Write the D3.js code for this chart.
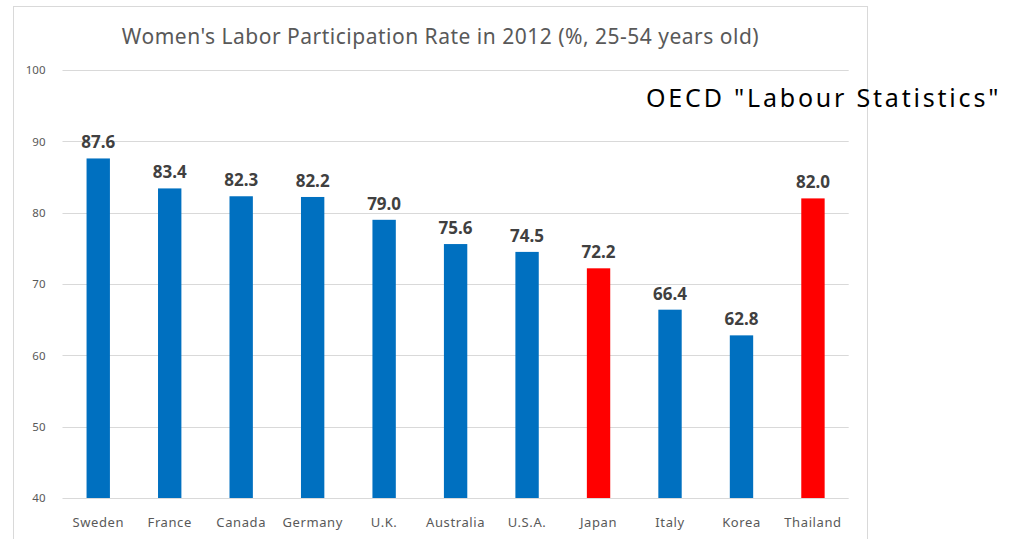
<!DOCTYPE html>
<html>
<head>
<meta charset="utf-8">
<script src="https://cdn.jsdelivr.net/npm/d3@7"></script>
<style>
html,body{margin:0;padding:0;background:#fff;}
svg{display:block;}
</style>
</head>
<body>
<svg id="chart" width="1023" height="539"></svg>
<script>
const categories = ["Sweden","France","Canada","Germany","U.K.","Australia","U.S.A.","Japan","Italy","Korea","Thailand"];
const values = [87.6,83.4,82.3,82.2,79.0,75.6,74.5,72.2,66.4,62.8,82.0];
const highlighted = ["Japan","Thailand"];
const yTicks = [40,50,60,70,80,90,100];
const titleText = "Women's Labor Participation Rate in 2012 (%, 25-54 years old)";
const sourceText = "OECD \"Labour Statistics\"";

const svg = d3.select("#chart");
const plot = {left: 62.5, right: 848.7, top: 70, bottom: 498};

// outer chart frame
svg.append("rect")
  .attr("x", 13.5).attr("y", 6.5)
  .attr("width", 854).attr("height", 560)
  .attr("fill", "#fff").attr("stroke", "#d9d9d9").attr("stroke-width", 1);

const x = d3.scaleBand().domain(categories).range([plot.left, plot.right]).paddingInner(0.673).paddingOuter(0.3365);
const y = d3.scaleLinear().domain([40, 100]).range([plot.bottom, plot.top]);

// gridlines
svg.append("g").selectAll("line").data(yTicks).join("line")
  .attr("x1", plot.left).attr("x2", plot.right)
  .attr("y1", d => Math.round(y(d)) + 0.5).attr("y2", d => Math.round(y(d)) + 0.5)
  .attr("stroke", "#d9d9d9").attr("stroke-width", 1);

// y axis labels
const yAxis = d3.axisLeft(y).tickValues(yTicks).tickSize(0).tickPadding(0);
const yg = svg.append("g").attr("transform", `translate(${plot.left - 17},0)`).call(yAxis);
yg.select(".domain").remove();
yg.selectAll("text")
  .attr("font-family", "'Noto Sans', 'Open Sans', sans-serif")
  .attr("font-size", 11.5).attr("fill", "#595959");

// x axis labels
const xAxis = d3.axisBottom(x).tickSize(0).tickPadding(0);
const xg = svg.append("g").attr("transform", `translate(0,${plot.bottom + 20})`).call(xAxis);
xg.select(".domain").remove();
xg.selectAll("text")
  .attr("font-family", "'Noto Sans', 'Open Sans', sans-serif")
  .attr("font-size", 13).attr("letter-spacing", 0.6).attr("fill", "#595959");

// bars
svg.append("g").selectAll("rect").data(categories).join("rect")
  .attr("x", d => x(d))
  .attr("width", x.bandwidth())
  .attr("y", (d, i) => y(values[i]))
  .attr("height", (d, i) => y(40) - y(values[i]))
  .attr("fill", d => highlighted.includes(d) ? "#ff0000" : "#0070c0");

// value labels
svg.append("g").selectAll("text").data(categories).join("text")
  .attr("x", d => x(d) + x.bandwidth() / 2)
  .attr("y", (d, i) => y(values[i]) - 10)
  .attr("text-anchor", "middle")
  .attr("font-family", "'Noto Sans', 'Open Sans', sans-serif")
  .attr("font-weight", "bold")
  .attr("font-size", 17)
  .attr("fill", "#404040")
  .text((d, i) => values[i].toFixed(1));

// title
svg.append("text")
  .attr("x", 440.5).attr("y", 44)
  .attr("text-anchor", "middle")
  .attr("font-family", "'Noto Sans', 'Open Sans', sans-serif")
  .attr("font-size", 21)
  .attr("letter-spacing", 0.5)
  .attr("fill", "#595959")
  .text(titleText);

// source annotation
svg.append("text")
  .attr("x", 646).attr("y", 107)
  .attr("font-family", "'Noto Sans', 'Open Sans', sans-serif")
  .attr("font-size", 25)
  .attr("letter-spacing", 2.8)
  .attr("fill", "#000")
  .text(sourceText);
</script>
</body>
</html>
